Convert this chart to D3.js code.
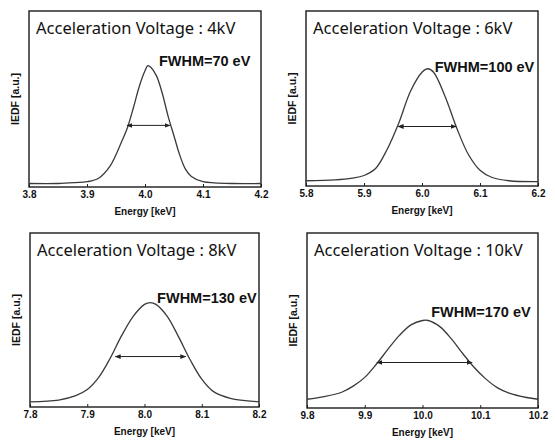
<!DOCTYPE html>
<html>
<head>
<meta charset="utf-8">
<script src="https://cdn.jsdelivr.net/npm/d3@7"></script>
<style>
  body { margin: 0; background: #fff; }
  svg { display: block; }
</style>
</head>
<body>
<svg id="chart" width="555" height="445"></svg>
<script>
// Data (energy keV, IEDF a.u.)
const voltages = ['4kV', '6kV', '8kV', '10kV']
const fwhmLabels = ['FWHM=70 eV', 'FWHM=100 eV', 'FWHM=130 eV', 'FWHM=170 eV']
const xDomains = [[3.8, 4.2], [5.8, 6.2], [7.8, 8.2], [9.8, 10.2]]
const xTicks = [
  ['3.8', '3.9', '4.0', '4.1', '4.2'],
  ['5.8', '5.9', '6.0', '6.1', '6.2'],
  ['7.8', '7.9', '8.0', '8.1', '8.2'],
  ['9.8', '9.9', '10.0', '10.1', '10.2']
]
const curve4kV = [
  [3.80, 0.02], [3.85, 0.02], [3.88, 0.025], [3.90, 0.03], [3.92, 0.05], [3.94, 0.12],
  [3.96, 0.26], [3.97, 0.34], [3.98, 0.45], [3.99, 0.57], [4.00, 0.66], [4.005, 0.69],
  [4.01, 0.68], [4.02, 0.63], [4.03, 0.53], [4.04, 0.40], [4.05, 0.29], [4.06, 0.18],
  [4.07, 0.10], [4.08, 0.06], [4.10, 0.03], [4.15, 0.02], [4.20, 0.02]
]
const curve6kV = [
  [5.80, 0.03], [5.85, 0.035], [5.88, 0.045], [5.90, 0.06], [5.92, 0.10], [5.94, 0.21],
  [5.96, 0.36], [5.98, 0.54], [6.00, 0.65], [6.01, 0.67], [6.02, 0.65], [6.04, 0.51],
  [6.06, 0.33], [6.08, 0.18], [6.10, 0.09], [6.12, 0.05], [6.15, 0.03], [6.20, 0.025]
]
const curve8kV = [
  [7.80, 0.03], [7.85, 0.04], [7.88, 0.065], [7.90, 0.10], [7.92, 0.17], [7.94, 0.28],
  [7.96, 0.41], [7.98, 0.52], [8.00, 0.59], [8.01, 0.60], [8.02, 0.59], [8.04, 0.52],
  [8.06, 0.40], [8.08, 0.27], [8.10, 0.16], [8.12, 0.09], [8.15, 0.05], [8.20, 0.03]
]
const curve10kV = [
  [9.80, 0.05], [9.83, 0.065], [9.86, 0.09], [9.88, 0.125], [9.90, 0.175], [9.92, 0.25],
  [9.94, 0.335], [9.96, 0.415], [9.98, 0.475], [10.00, 0.50], [10.01, 0.50], [10.03, 0.465],
  [10.05, 0.395], [10.07, 0.31], [10.09, 0.23], [10.11, 0.165], [10.13, 0.115],
  [10.15, 0.085], [10.18, 0.06], [10.20, 0.05]
]
const curves = [curve4kV, curve6kV, curve8kV, curve10kV]
// FWHM arrows: [left energy, right energy, level]
const halfLines = [[3.969, 4.043, 0.35], [5.959, 6.059, 0.34], [7.949, 8.072, 0.29], [9.921, 10.086, 0.26]]
// FWHM label anchor: [energy, level]
const fwhmPos = [[4.024, 0.69], [6.022, 0.65], [8.022, 0.60], [10.015, 0.52]]

const svg = d3.select('#chart')
const panels = [
  {left: 29, top: 11, width: 232, height: 176},
  {left: 306, top: 11, width: 232, height: 175},
  {left: 30, top: 233, width: 229, height: 174},
  {left: 307, top: 233, width: 231, height: 175}
]

const defs = svg.append('defs')
defs.append('marker')
  .attr('id', 'arrow')
  .attr('viewBox', '0 0 10 10')
  .attr('refX', 9).attr('refY', 5)
  .attr('markerWidth', 6).attr('markerHeight', 6)
  .attr('orient', 'auto-start-reverse')
  .append('path')
  .attr('d', 'M0,1 L10,5 L0,9 Z')
  .attr('fill', '#222')

panels.forEach((p, i) => {
  const x = d3.scaleLinear().domain(xDomains[i]).range([0, p.width])
  const y = d3.scaleLinear().domain([0, 1]).range([p.height, 0])
  const g = svg.append('g').attr('transform', `translate(${p.left},${p.top})`)

  // axis with inward ticks
  const axis = d3.axisBottom(x)
    .tickValues(xTicks[i].map(Number))
    .tickFormat((d, k) => xTicks[i][k])
    .tickSizeInner(-3).tickSizeOuter(0).tickPadding(4)
  const ax = g.append('g').attr('transform', `translate(0,${p.height})`).call(axis)
  ax.select('.domain').remove()
  ax.selectAll('line').attr('stroke', '#222')
  ax.selectAll('text')
    .attr('font-family', 'Liberation Sans, Arial, sans-serif')
    .attr('font-weight', 'bold').attr('font-size', 10).attr('fill', '#111')

  // frame
  g.append('rect')
    .attr('width', p.width).attr('height', p.height)
    .attr('fill', 'none').attr('stroke', '#1a1a1a').attr('stroke-width', 1.4)

  // curve
  const line = d3.line()
    .curve(d3.curveCatmullRom.alpha(0.5))
    .x(d => x(d[0])).y(d => y(d[1]))
  g.append('path')
    .datum(curves[i])
    .attr('d', line)
    .attr('fill', 'none').attr('stroke', '#3a3a3a').attr('stroke-width', 1.3)

  // FWHM arrow
  const h = halfLines[i]
  g.append('line')
    .attr('x1', x(h[0])).attr('x2', x(h[1]))
    .attr('y1', y(h[2])).attr('y2', y(h[2]))
    .attr('stroke', '#222').attr('stroke-width', 1)
    .attr('marker-start', 'url(#arrow)').attr('marker-end', 'url(#arrow)')

  // title
  g.append('text')
    .attr('x', 7).attr('y', 23)
    .attr('font-family', 'Noto Sans, Open Sans, sans-serif')
    .attr('font-size', 16.5).attr('fill', '#111')
    .text(`Acceleration Voltage : ${voltages[i]}`)

  // FWHM label
  g.append('text')
    .attr('x', x(fwhmPos[i][0])).attr('y', y(fwhmPos[i][1]))
    .attr('font-family', 'Liberation Sans, Arial, sans-serif')
    .attr('font-weight', 'bold').attr('font-size', 14.5).attr('fill', '#111')
    .text(fwhmLabels[i])

  // axis labels
  g.append('text')
    .attr('x', p.width / 2).attr('y', p.height + 28)
    .attr('text-anchor', 'middle')
    .attr('font-family', 'Liberation Sans, Arial, sans-serif')
    .attr('font-weight', 'bold').attr('font-size', 10).attr('fill', '#111')
    .text('Energy [keV]')
  g.append('text')
    .attr('transform', `translate(-10,${p.height / 2}) rotate(-90)`)
    .attr('text-anchor', 'middle')
    .attr('font-family', 'Liberation Sans, Arial, sans-serif')
    .attr('font-weight', 'bold').attr('font-size', 10.5).attr('fill', '#111')
    .text('IEDF [a.u.]')
})
</script>
</body>
</html>
